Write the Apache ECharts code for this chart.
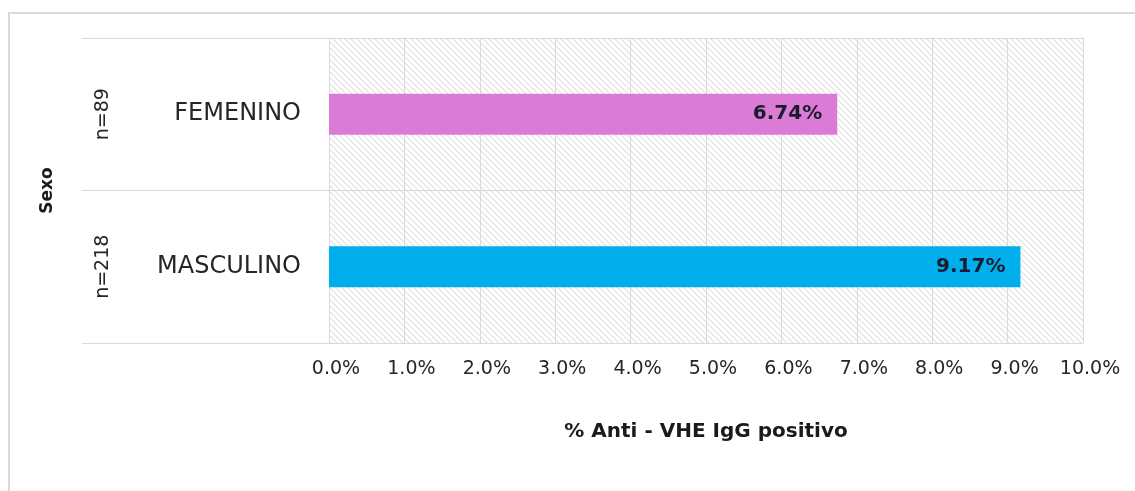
<!DOCTYPE html>
<html>
<head>
<meta charset="utf-8">
<script src="https://cdn.jsdelivr.net/npm/echarts@6/dist/echarts.min.js"></script>
<style>html,body{margin:0;padding:0;background:#fff}#c{width:1135px;height:491px}</style>
</head>
<body>
<div id="c"></div>
<script>
const categories = ['MASCULINO', 'FEMENINO'];
const sampleSizes = ['n=218', 'n=89'];
const values = [9.17, 6.74];
const barColors = ['#00AEEC', '#DC7BD6'];
const xTickLabels = ['0.0%','1.0%','2.0%','3.0%','4.0%','5.0%','6.0%','7.0%','8.0%','9.0%','10.0%'];

const pc = document.createElement('canvas');
pc.width = 6; pc.height = 6;
const g = pc.getContext('2d');
g.fillStyle = '#ffffff'; g.fillRect(0,0,6,6);
g.strokeStyle = '#e0e0e0'; g.lineWidth = 1.2;
g.beginPath();
g.moveTo(-1,-1); g.lineTo(7,7);
g.moveTo(-1,5); g.lineTo(1,7);
g.moveTo(5,-1); g.lineTo(7,1);
g.stroke();

const chart = echarts.init(document.getElementById('c'));
chart.setOption({
  animation: false,
  backgroundColor: '#fff',
  graphic: [{
    type: 'rect', left: 8, top: 12, silent: true, z: -10,
    shape: { width: 1400, height: 800 },
    style: { fill: 'transparent', stroke: '#d9d9d9', lineWidth: 2 }
  }],
  grid: {
    left: 329, right: 52, top: 38, bottom: 148,
    show: true, borderWidth: 0,
    backgroundColor: { image: pc, repeat: 'repeat' }
  },
  xAxis: {
    type: 'value', min: 0, max: 10, interval: 1,
    axisLine: { show: false }, axisTick: { show: false },
    splitLine: { show: true, lineStyle: { color: '#d9d9d9', width: 1 } },
    axisLabel: {
      margin: 17, color: '#262626', padding: [0, 0, 0, 14],
      fontFamily: 'DejaVu Sans', fontSize: 19,
      formatter: (v) => xTickLabels[Math.round(v)]
    },
    name: '% Anti - VHE IgG positivo',
    nameLocation: 'middle', nameGap: 79,
    nameTextStyle: { fontFamily: 'DejaVu Sans', fontWeight: 'bold', fontSize: 20, color: '#1a1a1a' }
  },
  yAxis: [{
    type: 'category', data: categories,
    axisLine: { show: false },
    axisTick: { show: true, length: 247, lineStyle: { color: '#d9d9d9' } },
    splitLine: { show: true, lineStyle: { color: '#d9d9d9' } },
    axisLabel: { margin: 28, color: '#262626', fontFamily: 'DejaVu Sans', fontSize: 24 },
    name: 'Sexo', nameLocation: 'middle', nameRotate: 90, nameGap: 273,
    nameTextStyle: { fontFamily: 'DejaVu Sans', fontWeight: 'bold', fontSize: 17, color: '#1a1a1a' }
  }, {
    type: 'category', data: sampleSizes, position: 'left', offset: 216,
    axisLine: { show: false }, axisTick: { show: false }, splitLine: { show: false },
    axisLabel: { rotate: 90, margin: 0, color: '#262626', fontFamily: 'DejaVu Sans', fontSize: 19 }
  }],
  series: [{
    type: 'bar', yAxisIndex: 0, barWidth: 41,
    data: values.map((v, i) => ({ value: v, itemStyle: { color: barColors[i] } })),
    label: {
      show: true, position: 'insideRight', distance: 15,
      formatter: (p) => p.value.toFixed(2) + '%',
      fontFamily: 'DejaVu Sans', fontWeight: 'bold', fontSize: 20, color: '#1b1b2f'
    }
  }]
});
</script>
</body>
</html>
